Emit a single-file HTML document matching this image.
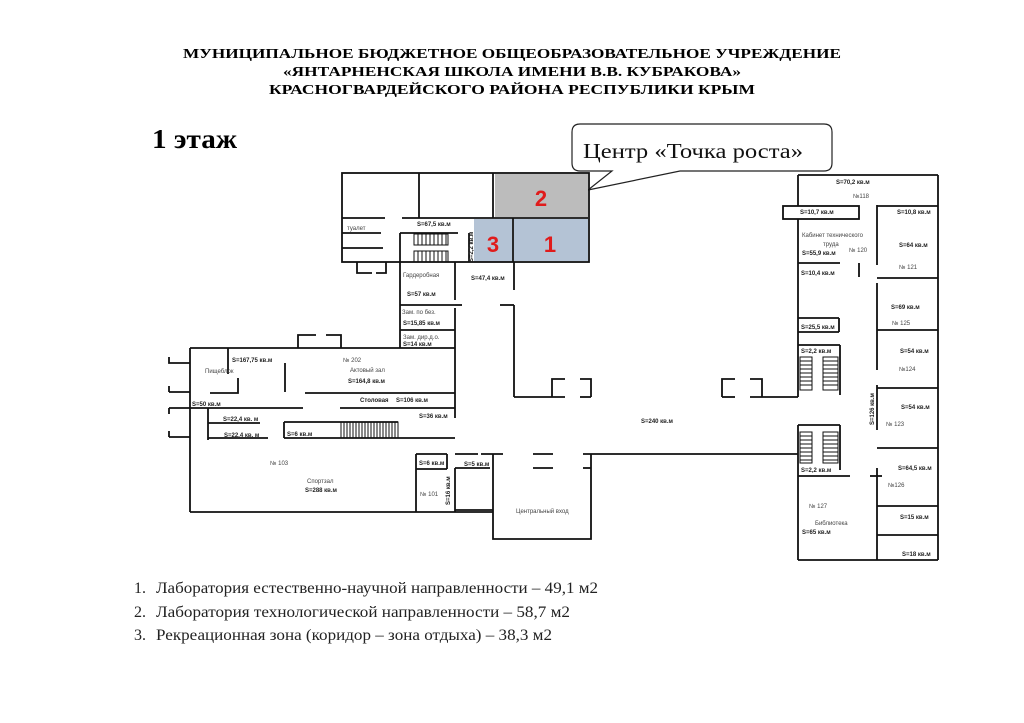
<!DOCTYPE html>
<html><head><meta charset="utf-8"><style>
html,body{margin:0;padding:0;background:#fff;}
svg{display:block;}
.t{font-family:"Liberation Serif",serif;font-weight:bold;font-size:13.5px;}
.s{font-family:"Liberation Sans",sans-serif;font-size:6px;font-weight:bold;fill:#222;}
.n{font-family:"Liberation Sans",sans-serif;font-size:6px;fill:#444;}
.l{font-family:"Liberation Serif",serif;font-size:16px;fill:#222;}
.w line,.w polyline,.w rect{stroke:#111;stroke-width:1.8;fill:none;}
</style></head><body>
<svg width="1024" height="723" viewBox="0 0 1024 723" xmlns="http://www.w3.org/2000/svg">
<text class="t" x="512" y="58" text-anchor="middle" textLength="658" lengthAdjust="spacingAndGlyphs">МУНИЦИПАЛЬНОЕ БЮДЖЕТНОЕ ОБЩЕОБРАЗОВАТЕЛЬНОЕ УЧРЕЖДЕНИЕ</text>
<text class="t" x="512" y="76" text-anchor="middle" textLength="458" lengthAdjust="spacingAndGlyphs">«ЯНТАРНЕНСКАЯ ШКОЛА ИМЕНИ В.В. КУБРАКОВА»</text>
<text class="t" x="512" y="94" text-anchor="middle" textLength="486" lengthAdjust="spacingAndGlyphs">КРАСНОГВАРДЕЙСКОГО РАЙОНА РЕСПУБЛИКИ  КРЫМ</text>
<text x="152" y="148" font-family="Liberation Serif,serif" font-weight="bold" font-size="27" textLength="85" lengthAdjust="spacingAndGlyphs">1 этаж</text>

<path d="M580,124 H824 Q832,124 832,132 V163 Q832,171 824,171 H680 L588,190 L612,171 H580 Q572,171 572,163 V132 Q572,124 580,124 Z" fill="#fff" stroke="#222" stroke-width="1.2"/>
<text x="583" y="158" font-family="Liberation Serif,serif" font-size="21" fill="#111" textLength="220" lengthAdjust="spacingAndGlyphs">Центр «Точка роста»</text>

<rect x="495" y="174" width="93" height="43" fill="#bcbcbc"/>
<rect x="474" y="219" width="38" height="43" fill="#b4c3d5"/>
<rect x="514" y="219" width="74" height="42" fill="#b4c3d5"/>
<text x="541" y="206" font-family="Liberation Sans,sans-serif" font-weight="bold" font-size="22" fill="#e01b1b" text-anchor="middle">2</text>
<text x="493" y="252" font-family="Liberation Sans,sans-serif" font-weight="bold" font-size="22" fill="#e01b1b" text-anchor="middle">3</text>
<text x="550" y="252" font-family="Liberation Sans,sans-serif" font-weight="bold" font-size="22" fill="#e01b1b" text-anchor="middle">1</text>

<g class="w">
<rect x="342" y="173" width="247" height="89"/>
<line x1="419" y1="173" x2="419" y2="218"/>
<line x1="493" y1="173" x2="493" y2="218"/>
<line x1="342" y1="218" x2="385" y2="218"/>
<line x1="402" y1="218" x2="588" y2="218"/>
<line x1="342" y1="233" x2="381" y2="233"/>
<line x1="342" y1="248" x2="383" y2="248"/>
<line x1="400" y1="233" x2="458" y2="233"/>
<line x1="469" y1="233" x2="469" y2="262"/>
<line x1="513" y1="218" x2="513" y2="262"/>
<polyline points="357,262 357,273 372,273"/>
<polyline points="386,262 386,273 376,273"/>
<line x1="400" y1="233" x2="400" y2="348"/>
<line x1="455" y1="262" x2="455" y2="300"/>
<line x1="455" y1="308" x2="455" y2="418"/>
<line x1="400" y1="305" x2="455" y2="305"/>
<line x1="400" y1="330" x2="455" y2="330"/>
<line x1="514" y1="262" x2="514" y2="290"/>
<line x1="514" y1="305" x2="514" y2="397"/>
<line x1="500" y1="305" x2="514" y2="305"/>
<line x1="455" y1="305" x2="462" y2="305"/>
<line x1="190" y1="348" x2="455" y2="348"/>
<line x1="190" y1="348" x2="190" y2="512"/>
<line x1="190" y1="512" x2="493" y2="512"/>
<polyline points="298,348 298,335 316,335"/>
<polyline points="326,335 341,335 341,348"/>
<line x1="228" y1="348" x2="228" y2="374"/>
<line x1="285" y1="363" x2="285" y2="392"/>
<polyline points="210,393 238,393 238,378"/>
<line x1="305" y1="393" x2="455" y2="393"/>
<line x1="190" y1="408" x2="303" y2="408"/>
<line x1="340" y1="408" x2="455" y2="408"/>
<polyline points="169,357 169,363 190,363"/>
<polyline points="169,392 190,392"/>
<line x1="169" y1="386" x2="169" y2="392"/>
<line x1="169" y1="408" x2="190" y2="408"/>
<line x1="169" y1="408" x2="169" y2="414"/>
<line x1="169" y1="437" x2="190" y2="437"/>
<line x1="169" y1="431" x2="169" y2="437"/>
<line x1="208" y1="408" x2="208" y2="440"/>
<line x1="208" y1="423" x2="260" y2="423"/>
<line x1="208" y1="438" x2="268" y2="438"/>
<line x1="284" y1="422" x2="398" y2="422"/>
<line x1="284" y1="422" x2="284" y2="438"/>
<line x1="284" y1="438" x2="455" y2="438"/>
<line x1="416" y1="454" x2="447" y2="454"/>
<line x1="416" y1="454" x2="416" y2="512"/>
<line x1="447" y1="454" x2="447" y2="469"/>
<line x1="416" y1="469" x2="447" y2="469"/>
<line x1="455" y1="468" x2="455" y2="512"/>
<line x1="455" y1="454" x2="478" y2="454"/>
<line x1="455" y1="468" x2="490" y2="468"/>
<line x1="481" y1="454" x2="503" y2="454"/>
<line x1="455" y1="510" x2="493" y2="510"/>
<polyline points="493,454 493,539 591,539 591,454"/>
<line x1="533" y1="454" x2="553" y2="454"/>
<line x1="533" y1="468" x2="553" y2="468"/>
<line x1="583" y1="454" x2="798" y2="454"/>
<line x1="583" y1="468" x2="591" y2="468"/>
<line x1="514" y1="397" x2="565" y2="397"/>
<line x1="580" y1="397" x2="591" y2="397"/>
<line x1="722" y1="397" x2="735" y2="397"/>
<line x1="750" y1="397" x2="798" y2="397"/>
<polyline points="565,379 552,379 552,397"/>
<polyline points="580,379 591,379 591,397"/>
<polyline points="735,379 722,379 722,397"/>
<polyline points="750,379 762,379 762,397"/>
<line x1="798" y1="175" x2="938" y2="175"/>
<line x1="938" y1="175" x2="938" y2="560"/>
<line x1="798" y1="560" x2="938" y2="560"/>
<line x1="798" y1="175" x2="798" y2="206"/>
<line x1="798" y1="219" x2="798" y2="397"/>
<line x1="798" y1="425" x2="798" y2="560"/>
<rect x="783" y="206" width="76" height="13"/>
<line x1="798" y1="263" x2="840" y2="263"/>
<line x1="859" y1="263" x2="859" y2="277"/>
<line x1="877" y1="205" x2="877" y2="265"/>
<line x1="877" y1="283" x2="877" y2="370"/>
<line x1="877" y1="385" x2="877" y2="430"/>
<line x1="877" y1="468" x2="877" y2="560"/>
<line x1="877" y1="206" x2="938" y2="206"/>
<line x1="877" y1="278" x2="938" y2="278"/>
<line x1="877" y1="330" x2="938" y2="330"/>
<line x1="877" y1="388" x2="938" y2="388"/>
<line x1="877" y1="448" x2="938" y2="448"/>
<line x1="877" y1="506" x2="938" y2="506"/>
<line x1="877" y1="535" x2="938" y2="535"/>
<line x1="798" y1="318" x2="839" y2="318"/>
<line x1="839" y1="318" x2="839" y2="332"/>
<line x1="798" y1="332" x2="839" y2="332"/>
<line x1="798" y1="345" x2="840" y2="345"/>
<line x1="840" y1="345" x2="840" y2="395"/>
<line x1="798" y1="425" x2="840" y2="425"/>
<line x1="840" y1="425" x2="840" y2="470"/>
<line x1="798" y1="476" x2="850" y2="476"/>
<line x1="870" y1="476" x2="882" y2="476"/>
</g>
<g stroke="#111" stroke-width="1">
<rect x="414" y="234" width="34" height="11" fill="none"/>
<rect x="414" y="251" width="34" height="11" fill="none"/>
<path d="M418,234V245M422,234V245M426,234V245M430,234V245M434,234V245M438,234V245M442,234V245M446,234V245M418,251V262M422,251V262M426,251V262M430,251V262M434,251V262M438,251V262M442,251V262M446,251V262"/>
<rect x="341" y="422" width="57" height="16" fill="none"/>
<path d="M344,422V438M347,422V438M350,422V438M353,422V438M356,422V438M359,422V438M362,422V438M365,422V438M368,422V438M371,422V438M374,422V438M377,422V438M380,422V438M383,422V438M386,422V438M389,422V438M392,422V438M395,422V438"/>
<rect x="800" y="357" width="12" height="33" fill="none"/>
<rect x="823" y="357" width="15" height="33" fill="none"/>
<rect x="800" y="432" width="12" height="31" fill="none"/>
<rect x="823" y="432" width="15" height="31" fill="none"/>
<path d="M800,361H812M800,365H812M800,369H812M800,373H812M800,377H812M800,381H812M800,385H812M823,361H838M823,365H838M823,369H838M823,373H838M823,377H838M823,381H838M823,385H838M800,436H812M800,440H812M800,444H812M800,448H812M800,452H812M800,456H812M800,460H812M823,436H838M823,440H838M823,444H838M823,448H838M823,452H838M823,456H838M823,460H838"/>
</g>
<text class="n" x="347" y="230">туалет</text>
<text class="s" x="417" y="226">S=67,5 кв.м</text>
<text class="s" transform="translate(473,262) rotate(-90)">S=2,2 кв.м</text>
<text class="n" x="403" y="277">Гардеробная</text>
<text class="s" x="407" y="296">S=57 кв.м</text>
<text class="s" x="471" y="280">S=47,4 кв.м</text>
<text class="n" x="402" y="314">Зам. по без.</text>
<text class="s" x="403" y="325">S=15,85 кв.м</text>
<text class="n" x="403" y="339">Зам. дир.д.о.</text>
<text class="s" x="403" y="346">S=14 кв.м</text>
<text class="s" x="232" y="362">S=167,75 кв.м</text>
<text class="n" x="343" y="362">№ 202</text>
<text class="n" x="205" y="373">Пищеблок</text>
<text class="n" x="350" y="372">Актовый зал</text>
<text class="s" x="348" y="383">S=164,8 кв.м</text>
<text class="s" x="192" y="406">S=50 кв.м</text>
<text class="s" x="360" y="402">Столовая</text>
<text class="s" x="396" y="402">S=106 кв.м</text>
<text class="s" x="419" y="418">S=36 кв.м</text>
<text class="s" x="223" y="421">S=22,4 кв. м</text>
<text class="s" x="224" y="437">S=22,4 кв. м</text>
<text class="s" x="287" y="436">S=6 кв.м</text>
<text class="n" x="270" y="465">№ 103</text>
<text class="n" x="307" y="483">Спортзал</text>
<text class="s" x="305" y="492">S=288 кв.м</text>
<text class="s" x="419" y="465">S=6 кв.м</text>
<text class="s" x="464" y="466">S=5 кв.м</text>
<text class="n" x="420" y="496">№ 101</text>
<text class="s" transform="translate(450,505) rotate(-90)">S=16 кв.м</text>
<text class="n" x="516" y="513">Центральный вход</text>
<text class="s" x="641" y="423">S=240 кв.м</text>
<text class="s" x="836" y="184">S=70,2 кв.м</text>
<text class="n" x="853" y="198">№118</text>
<text class="s" x="800" y="214">S=10,7 кв.м</text>
<text class="s" x="897" y="214">S=10,8 кв.м</text>
<text class="n" x="802" y="237">Кабинет технического</text>
<text class="n" x="823" y="246">труда</text>
<text class="s" x="802" y="255">S=55,9 кв.м</text>
<text class="n" x="849" y="252">№ 120</text>
<text class="s" x="899" y="247">S=64 кв.м</text>
<text class="n" x="899" y="269">№ 121</text>
<text class="s" x="801" y="275">S=10,4 кв.м</text>
<text class="s" x="891" y="309">S=69 кв.м</text>
<text class="n" x="892" y="325">№ 125</text>
<text class="s" x="801" y="329">S=25,5 кв.м</text>
<text class="s" x="801" y="353">S=2,2 кв.м</text>
<text class="s" x="900" y="353">S=54 кв.м</text>
<text class="n" x="899" y="371">№124</text>
<text class="s" x="901" y="409">S=54 кв.м</text>
<text class="n" x="886" y="426">№ 123</text>
<text class="s" transform="translate(874,425) rotate(-90)">S=126 кв.м</text>
<text class="s" x="801" y="472">S=2,2 кв.м</text>
<text class="s" x="898" y="470">S=64,5 кв.м</text>
<text class="n" x="888" y="487">№126</text>
<text class="n" x="809" y="508">№ 127</text>
<text class="n" x="815" y="525">Библиотека</text>
<text class="s" x="802" y="534">S=65 кв.м</text>
<text class="s" x="900" y="519">S=15 кв.м</text>
<text class="s" x="902" y="556">S=18 кв.м</text>

<text class="l" x="134" y="593">1.</text>
<text class="l" x="156" y="593" textLength="442" lengthAdjust="spacingAndGlyphs">Лаборатория естественно-научной направленности – 49,1 м2</text>
<text class="l" x="134" y="617">2.</text>
<text class="l" x="156" y="617" textLength="414" lengthAdjust="spacingAndGlyphs">Лаборатория технологической направленности – 58,7 м2</text>
<text class="l" x="134" y="640">3.</text>
<text class="l" x="156" y="640" textLength="396" lengthAdjust="spacingAndGlyphs">Рекреационная зона (коридор – зона отдыха) – 38,3 м2</text>
</svg>
</body></html>
